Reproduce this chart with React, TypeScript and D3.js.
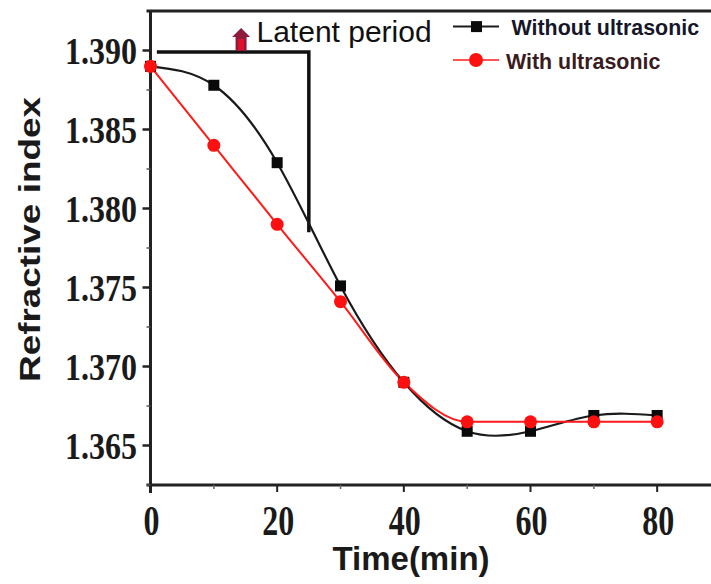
import React from "react";
import * as d3 from "d3";

const times = [0, 10, 20, 30, 40, 50, 60, 70, 80];
const withoutUltrasonic = [1.389, 1.3878, 1.3829, 1.3751, 1.369, 1.3659, 1.3659, 1.3669, 1.3669];
const withUltrasonic = [1.389, 1.3840, 1.3790, 1.3741, 1.369, 1.3665, 1.3665, 1.3665, 1.3665];
const xTicks = [0, 20, 40, 60, 80];
const xMinorTicks = [10, 30, 50, 70];
const yTicks = [1.365, 1.37, 1.375, 1.38, 1.385, 1.39];
const yMinorTicks = [1.3625, 1.3675, 1.3725, 1.3775, 1.3825, 1.3875];
const seriesNames = ["Without ultrasonic", "With ultrasonic"];
const latentBracket = { x0: 1, x1: 25, yTop: 1.3899, yBottom: 1.3785 };
const arrowAt = { x: 14.3 };

const W = 711;
const H = 584;

export default function App() {
  const x = d3.scaleLinear().domain([0, 88.5]).range([150.5, 711]);
  const y = d3.scaleLinear().domain([1.3625, 1.3925]).range([485, 11]);

  const blackLine = d3
    .line<number>()
    .x((_, i) => x(times[i]))
    .y((d) => y(d))
    .curve(d3.curveNatural)(withoutUltrasonic) as string;
  const redLine = d3
    .line<number>()
    .x((_, i) => x(times[i]))
    .y((d) => y(d))
    .curve(d3.curveMonotoneX)(withUltrasonic) as string;

  const axisColor = "#222";
  const yTop = 11;
  const ax = x(0);
  const ay = y(1.3625);
  const arrowX = x(arrowAt.x);
  const bracketY = y(latentBracket.yTop);

  return (
    <svg
      width={W}
      height={H}
      style={{ position: "absolute", left: 0, top: 0, background: "#fff" }}
    >
      {/* frame */}
      <line x1={ax - 4} x2={W} y1={yTop} y2={yTop} stroke={axisColor} strokeWidth={3} />
      <line x1={ax} x2={ax} y1={yTop - 1} y2={ay + 8} stroke={axisColor} strokeWidth={3} />
      <line x1={ax - 4} x2={W} y1={ay} y2={ay} stroke={axisColor} strokeWidth={3} />

      {/* y ticks */}
      {yTicks.map((v) => (
        <g key={"yt" + v}>
          <line x1={ax - 8} x2={ax} y1={y(v)} y2={y(v)} stroke={axisColor} strokeWidth={2.5} />
          <text
            transform={`translate(137, ${y(v) + 13}) scale(1, 1.18)`}
            textAnchor="end"
            fontFamily="Liberation Serif, Times New Roman, serif"
            fontWeight="bold"
            fontSize={32}
            fill="#1a1a1a"
          >
            {v.toFixed(3)}
          </text>
        </g>
      ))}
      {yMinorTicks.map((v) => (
        <line key={"ym" + v} x1={ax - 4} x2={ax} y1={y(v)} y2={y(v)} stroke="#555" strokeWidth={1.5} />
      ))}

      {/* x ticks */}
      {xTicks.map((v) => (
        <g key={"xt" + v}>
          <line x1={x(v)} x2={x(v)} y1={ay} y2={ay + 7} stroke={axisColor} strokeWidth={2} />
          <text
            transform={`translate(${x(v) + 1}, 535) scale(1, 1.3)`}
            textAnchor="middle"
            fontFamily="Liberation Serif, Times New Roman, serif"
            fontWeight="bold"
            fontSize={32}
            fill="#1a1a1a"
          >
            {v}
          </text>
        </g>
      ))}
      {xMinorTicks.map((v) => (
        <line key={"xm" + v} x1={x(v)} x2={x(v)} y1={ay} y2={ay + 4} stroke="#666" strokeWidth={1.5} />
      ))}

      {/* axis titles */}
      <text
        x={411}
        y={570}
        textAnchor="middle"
        fontFamily="Liberation Sans, Arial, sans-serif"
        fontWeight="bold"
        fontSize={33}
        fill="#1a1a1a"
      >
        Time(min)
      </text>
      <text
        transform={`translate(40, 239.5) rotate(-90)`}
        textAnchor="middle"
        fontFamily="Liberation Sans, Arial, sans-serif"
        fontWeight="bold"
        fontSize={30}
        textLength={285}
        lengthAdjust="spacingAndGlyphs"
        fill="#1a1a1a"
      >
        Refractive index
      </text>

      {/* latent period bracket */}
      <polyline
        points={`${x(latentBracket.x0)},${bracketY} ${x(latentBracket.x1)},${bracketY} ${x(latentBracket.x1)},${y(latentBracket.yBottom)}`}
        fill="none"
        stroke="#111"
        strokeWidth={3.5}
      />
      <polygon
        points={`${arrowX},28 ${arrowX + 9},37 ${arrowX + 5.5},37 ${arrowX + 5.5},${bracketY - 1} ${arrowX - 5.5},${bracketY - 1} ${arrowX - 5.5},37 ${arrowX - 9},37`}
        fill="#8e1a3c"
      />
      <rect x={arrowX - 3} y={39} width={6} height={bracketY - 41} fill="#e0102a" />
      <text
        x={256.5}
        y={42}
        fontFamily="Liberation Sans, Arial, sans-serif"
        fontSize={30}
        fill="#111"
      >
        Latent period
      </text>

      {/* series lines */}
      <path d={blackLine} fill="none" stroke="#1a1a1a" strokeWidth={2.2} />
      <path d={redLine} fill="none" stroke="#ff1a1a" strokeWidth={2} />
      {withoutUltrasonic.map((v, i) => (
        <rect key={"b" + i} x={x(times[i]) - 5.5} y={y(v) - 5.5} width={11} height={11} fill="#0a0a0a" />
      ))}
      {withUltrasonic.map((v, i) => (
        <circle key={"r" + i} cx={x(times[i])} cy={y(v)} r={6.5} fill="#ff1010" />
      ))}

      {/* legend */}
      <line x1={453} x2={499} y1={26.6} y2={26.6} stroke="#1a1a1a" strokeWidth={2} />
      <rect x={476.5 - 5.5} y={26.6 - 5.5} width={11} height={11} fill="#0a0a0a" />
      <text
        x={511.5}
        y={35}
        fontFamily="Liberation Sans, Arial, sans-serif"
        fontWeight="bold"
        fontSize={21.4}
        fill="#16162a"
      >
        {seriesNames[0]}
      </text>
      <line x1={453} x2={499} y1={60} y2={60} stroke="#ff1a1a" strokeWidth={1.5} />
      <circle cx={476} cy={60} r={7} fill="#ff1010" />
      <text
        x={506}
        y={69}
        fontFamily="Liberation Sans, Arial, sans-serif"
        fontWeight="bold"
        fontSize={21.4}
        fill="#3a1c20"
      >
        {seriesNames[1]}
      </text>
    </svg>
  );
}
